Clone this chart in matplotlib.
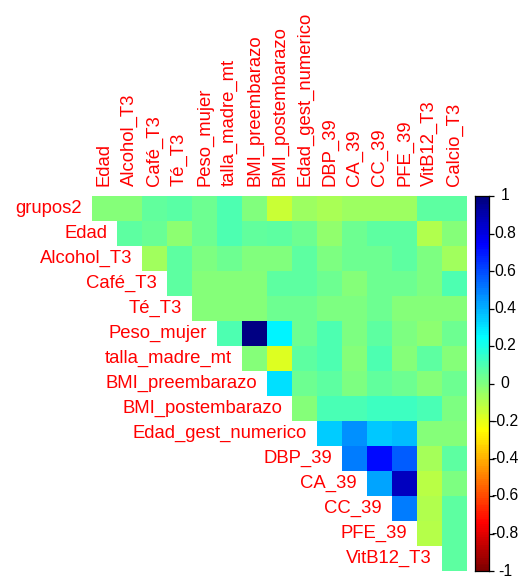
import numpy as np
import matplotlib
matplotlib.use("Agg")
import matplotlib.pyplot as plt
from matplotlib.colors import LinearSegmentedColormap, ListedColormap

row_labels = ["grupos2", "Edad", "Alcohol_T3", "Café_T3", "Té_T3", "Peso_mujer",
              "talla_madre_mt", "BMI_preembarazo", "BMI_postembarazo",
              "Edad_gest_numerico", "DBP_39", "CA_39", "CC_39", "PFE_39", "VitB12_T3"]
col_labels = ["Edad", "Alcohol_T3", "Café_T3", "Té_T3", "Peso_mujer", "talla_madre_mt",
              "BMI_preembarazo", "BMI_postembarazo", "Edad_gest_numerico", "DBP_39",
              "CA_39", "CC_39", "PFE_39", "VitB12_T3", "Calcio_T3"]

# upper-triangle correlations, one list per row (starting at the diagonal column)
r_grupos2 = [-0.02, -0.02, 0.05, 0.07, 0.03, 0.09, -0.01, -0.15, -0.06, -0.09, -0.06, -0.06, -0.06, 0.06, 0.06]
r_edad = [0.06, 0.04, -0.03, 0.03, 0.09, 0.05, 0.06, 0.03, -0.04, 0.03, 0.06, 0.06, -0.10, -0.02]
r_alcohol = [-0.07, 0.06, 0.0, 0.03, -0.01, -0.01, 0.06, 0.0, 0.03, 0.03, 0.06, 0.0, -0.07]
r_cafe = [0.06, -0.02, -0.02, -0.02, 0.06, 0.06, 0.03, -0.02, 0.03, 0.03, 0.0, 0.09]
r_te = [-0.02, -0.02, -0.02, 0.03, 0.03, 0.0, 0.0, 0.03, -0.02, -0.02, -0.02]
r_peso = [0.09, 0.98, 0.26, 0.03, 0.09, 0.0, 0.06, 0.0, -0.03, 0.03]
r_talla = [-0.02, -0.19, 0.06, 0.09, -0.02, 0.09, -0.02, 0.06, -0.02]
r_bmi_pre = [0.30, 0.03, 0.06, 0.0, 0.05, 0.03, -0.02, 0.03]
r_bmi_post = [-0.02, 0.10, 0.10, 0.13, 0.13, 0.10, 0.0]
r_edad_gest = [0.34, 0.46, 0.35, 0.37, -0.02, -0.02]
r_dbp = [0.50, 0.72, 0.57, -0.08, 0.06]
r_ca = [0.42, 0.86, -0.12, 0.0]
r_cc = [0.50, -0.10, 0.06]
r_pfe = [-0.11, 0.06]
r_vitb12 = [0.06]

rows = [r_grupos2, r_edad, r_alcohol, r_cafe, r_te, r_peso, r_talla, r_bmi_pre,
        r_bmi_post, r_edad_gest, r_dbp, r_ca, r_cc, r_pfe, r_vitb12]

n = len(col_labels)
M = np.full((n, n), np.nan)
for i, vals in enumerate(rows):
    for k, v in enumerate(vals):
        M[i, i + k] = v

base = LinearSegmentedColormap.from_list(
    "jetlike", ["#7F0000", "#FF0000", "#FF7F00", "#FFFF00", "#7FFF7F",
                "#00FFFF", "#007FFF", "#0000FF", "#00007F"])
cmap = ListedColormap(base(np.linspace(0, 1, 200)))

W, H = 521, 578
fig = plt.figure(figsize=(W / 100, H / 100), dpi=100)
fig.patch.set_facecolor("white")

gx0, gy0, gs = 92, 196, 375
ax = fig.add_axes([gx0 / W, (H - gy0 - gs) / H, gs / W, gs / H])
Mm = np.ma.masked_invalid(M)
ax.pcolormesh(np.arange(n + 1), np.arange(n + 1), Mm, cmap=cmap, vmin=-1, vmax=1,
              shading="flat", edgecolors="none", antialiased=False)
ax.set_xlim(0, n)
ax.set_ylim(n, 0)
ax.axis("off")

font = "Liberation Sans"
fs = 13.3
red = "#FF0000"
for i, lab in enumerate(row_labels):
    ax.text(i - 0.4, i + 0.5, lab, ha="right", va="center", color=red,
            fontsize=fs, family=font, clip_on=False)
for j, lab in enumerate(col_labels):
    ax.text(j + 0.5, -0.42, lab, ha="center", va="bottom", rotation=90, color=red,
            fontsize=fs, family=font, clip_on=False)

# colour legend
cx0, cw = 475, 14
cax = fig.add_axes([cx0 / W, (H - gy0 - gs) / H, cw / W, gs / H])
grad = np.linspace(-1, 1, 200).reshape(-1, 1)
cax.imshow(grad, cmap=cmap, vmin=-1, vmax=1, aspect="auto", origin="lower",
           extent=[0, 1, -1, 1], interpolation="nearest")
cax.set_xlim(0, 1)
cax.set_ylim(-1, 1)
cax.set_xticks([])
ticks = np.round(np.arange(-1, 1.001, 0.2), 1)
cax.yaxis.tick_right()
cax.set_yticks(ticks)
cax.set_yticklabels([])
cax.tick_params(axis="y", length=3.5, width=0.9, color="black")
for s in cax.spines.values():
    s.set_linewidth(0.9)
    s.set_color("black")
for t in ticks:
    lab = "0" if abs(t) < 1e-9 else ("%g" % t)
    fig.text(505 / W, (H - (gy0 + gs * (1 - t) / 2)) / H, lab, ha="center", va="center",
             fontsize=11.3, family=font, color="black")

fig.savefig("out.png", dpi=100, facecolor="white")
